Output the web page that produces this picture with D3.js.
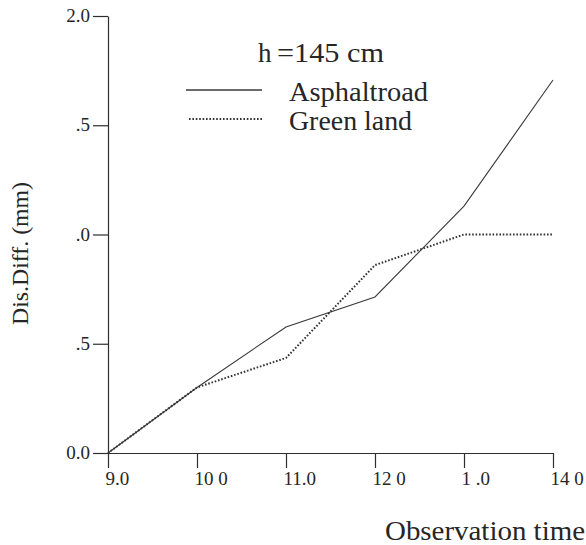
<!DOCTYPE html>
<html>
<head>
<meta charset="utf-8">
<script src="https://cdn.jsdelivr.net/npm/d3@7"></script>
</head>
<body style="margin:0;padding:0;background:#fff;">
<svg id="chart" width="586" height="545" style="display:block;"></svg>
<script>
// ---- data ----
const times = [9, 10, 11, 12, 13, 14];
const asphalt = [0.0, 0.30, 0.577, 0.714, 1.13, 1.707];
const greenLand = [0.0, 0.30, 0.435, 0.86, 1.0, 1.0];
const xTickValues = [9, 10, 11, 12, 13, 14];
const xTickLabels = ["9.0", "10 0", "11.0", "12 0", "1 .0", "14 0"];
const yTickValues = [0, 0.5, 1.0, 1.5, 2.0];
const yTickLabels = ["0.0", ".5", ".0", ".5", "2.0"];
const seriesNames = ["Asphaltroad", "Green land"];
const legendTitle = ["h", "=145 cm"];
const xTitle = "Observation time";
const yTitle = "Dis.Diff. (mm)";

const FONT = "Liberation Serif";
const svg = d3.select("#chart");
const ink = "#2e2e2e";
const txt = "#262626";

const x = d3.scaleLinear().domain([9, 14]).range([108, 553]);
const y = d3.scaleLinear().domain([0, 2]).range([453, 16]);

// y axis
const yAxis = d3.axisLeft(y)
  .tickValues(yTickValues)
  .tickFormat((d, i) => yTickLabels[i])
  .tickSize(15)
  .tickSizeOuter(0)
  .tickPadding(3);
const gy = svg.append("g").attr("transform", "translate(108,0)").call(yAxis);
gy.attr("font-family", FONT).attr("font-size", 19);
gy.select(".domain").attr("stroke", ink).attr("stroke-width", 1.2);
gy.selectAll(".tick line").attr("stroke", ink).attr("stroke-width", 1.2);
gy.selectAll(".tick text")
  .attr("font-family", FONT)
  .attr("font-size", 19)
  .attr("fill", txt)
  .attr("dy", "0.3em");

// x axis
const xAxis = d3.axisBottom(x)
  .tickValues(xTickValues)
  .tickFormat((d, i) => xTickLabels[i])
  .tickSize(15)
  .tickSizeOuter(0)
  .tickPadding(4);
const gx = svg.append("g").attr("transform", "translate(0,453)").call(xAxis);
gx.attr("font-family", FONT).attr("font-size", 19);
gx.select(".domain").attr("stroke", ink).attr("stroke-width", 1.2);
gx.selectAll(".tick line").attr("stroke", ink).attr("stroke-width", 1.2);
gx.selectAll(".tick text")
  .attr("font-family", FONT)
  .attr("font-size", 19)
  .attr("fill", txt)
  .attr("xml:space", "preserve")
  .style("white-space", "pre")
  .attr("text-anchor", "start")
  .attr("x", -3);

// lines
const line = d3.line().x(d => x(d[0])).y(d => y(d[1]));
svg.append("path")
  .datum(times.map((t, i) => [t, asphalt[i]]))
  .attr("d", line)
  .attr("fill", "none")
  .attr("stroke", "#3a3a3a")
  .attr("stroke-width", 1.1);
svg.append("path")
  .datum(times.map((t, i) => [t, greenLand[i]]))
  .attr("d", line)
  .attr("fill", "none")
  .attr("stroke", "#333")
  .attr("stroke-width", 2)
  .attr("stroke-dasharray", "1.6,1.8");

// legend
const lt = svg.append("text").attr("x", 258).attr("y", 62)
  .attr("font-family", FONT).attr("font-size", 27).attr("fill", txt);
lt.append("tspan").text(legendTitle[0]);
lt.append("tspan").attr("x", 277).attr("textLength", 107).attr("lengthAdjust", "spacingAndGlyphs").text(legendTitle[1]);

svg.append("line").attr("x1", 186).attr("x2", 262).attr("y1", 90).attr("y2", 90)
  .attr("stroke", "#3a3a3a").attr("stroke-width", 1.3);
svg.append("line").attr("x1", 189).attr("x2", 262).attr("y1", 119).attr("y2", 119)
  .attr("stroke", "#333").attr("stroke-width", 2).attr("stroke-dasharray", "1.6,1.8");

svg.append("text").attr("x", 289).attr("y", 101)
  .attr("font-family", FONT).attr("font-size", 27).attr("fill", txt)
  .attr("textLength", 139).attr("lengthAdjust", "spacingAndGlyphs").text(seriesNames[0]);
svg.append("text").attr("x", 289).attr("y", 130)
  .attr("font-family", FONT).attr("font-size", 27).attr("fill", txt)
  .attr("textLength", 123).attr("lengthAdjust", "spacingAndGlyphs").text(seriesNames[1]);

// axis titles
svg.append("text").attr("x", 385).attr("y", 540)
  .attr("font-family", FONT).attr("font-size", 28).attr("fill", txt)
  .attr("textLength", 200).attr("lengthAdjust", "spacingAndGlyphs").text(xTitle);
svg.append("text")
  .attr("transform", "translate(28,325) rotate(-90)")
  .attr("font-family", FONT).attr("font-size", 23).attr("fill", txt)
  .attr("textLength", 143).attr("lengthAdjust", "spacingAndGlyphs")
  .text(yTitle);
</script>
</body>
</html>
